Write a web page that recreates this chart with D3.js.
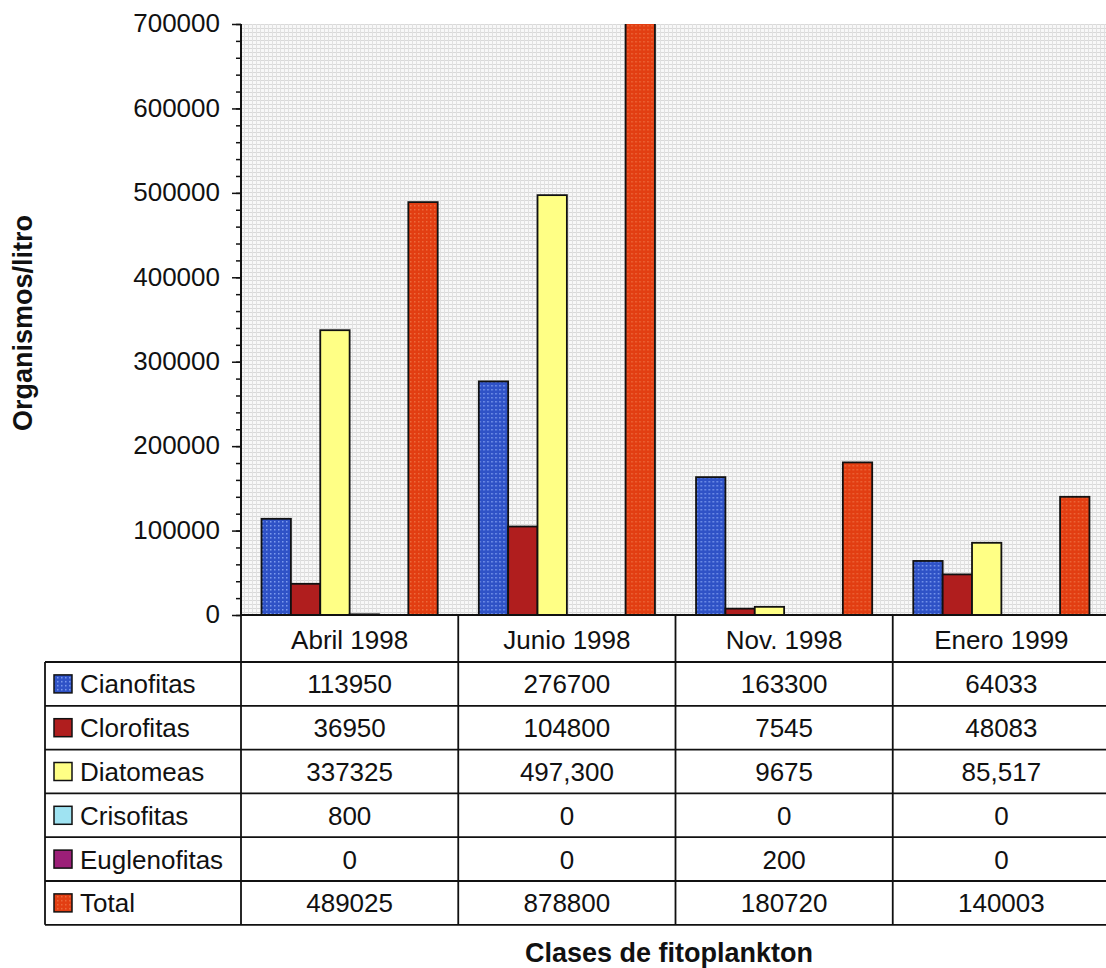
<!DOCTYPE html>
<html>
<head>
<meta charset="utf-8">
<script src="https://d3js.org/d3.v7.min.js"></script>
<style>
	body { margin: 0; background: #fff; }
	text { font-family: 'Liberation Sans', Arial, sans-serif; fill: #111; }
	.axis-title { font-weight: bold; font-size: 27px; }
	.tick text { font-size: 26px; }
	.cell { font-size: 26px; }
</style>
</head>
<body>
<div id="chart"></div>
<script>

var categories = ['Abril 1998', 'Junio 1998', 'Nov. 1998', 'Enero 1999']
var seriesNames = ['Cianofitas', 'Clorofitas', 'Diatomeas', 'Crisofitas', 'Euglenofitas', 'Total']
var seriesColors = ['#2f52c6', '#b01e1e', '#ffff85', '#9fe3f2', '#9c1f78', '#e23e12']

// values per series, one entry per category
var cianofitas = [113950, 276700, 163300, 64033]
var clorofitas = [36950, 104800, 7545, 48083]
var diatomeas = [337325, 497300, 9675, 85517]
var crisofitas = [800, 0, 0, 0]
var euglenofitas = [0, 0, 200, 0]
var total = [489025, 878800, 180720, 140003]

// the table prints some numbers with a thousands comma
var tableLabels = [
	['113950', '276700', '163300', '64033'],
	['36950', '104800', '7545', '48083'],
	['337325', '497,300', '9675', '85,517'],
	['800', '0', '0', '0'],
	['0', '0', '200', '0'],
	['489025', '878800', '180720', '140003']
]

var yTicks = [0, 100000, 200000, 300000, 400000, 500000, 600000, 700000]

var seriesValues = [cianofitas, clorofitas, diatomeas, crisofitas, euglenofitas, total]

var W = 1106
var H = 968

var plot = {
	'left' : 241,
	'right' : 1110,
	'top' : 24,
	'bottom' : 615
}

var table = {
	'left' : 45,
	'headerBottom' : 662,
	'rowH' : 43.8
}

var svg = d3.select('#chart')
	.append('svg')
	.attr('width', W)
	.attr('height', H)

var defs = svg.append('defs')

// hatched grey backdrop of the plot
var bgPat = defs.append('pattern')
	.attr('id', 'bg-grid')
	.attr('width', 4)
	.attr('height', 4)
	.attr('patternUnits', 'userSpaceOnUse')
bgPat.append('rect').attr('width', 4).attr('height', 4).attr('fill', '#f8f8f8')
bgPat.append('rect').attr('width', 4).attr('height', 1).attr('fill', '#d9d9d9')
bgPat.append('rect').attr('width', 1).attr('height', 4).attr('fill', '#e1e1e1')

// dotted blue used for Cianofitas
var bluePat = defs.append('pattern')
	.attr('id', 'blue-dots')
	.attr('width', 4)
	.attr('height', 4)
	.attr('patternUnits', 'userSpaceOnUse')
bluePat.append('rect').attr('width', 4).attr('height', 4).attr('fill', seriesColors[0])
bluePat.append('rect').attr('x', 1).attr('y', 1).attr('width', 1.5).attr('height', 1.5).attr('fill', '#7d9bee')

var orangePat = defs.append('pattern')
	.attr('id', 'orange-dots')
	.attr('width', 4)
	.attr('height', 4)
	.attr('patternUnits', 'userSpaceOnUse')
orangePat.append('rect').attr('width', 4).attr('height', 4).attr('fill', seriesColors[5])
orangePat.append('rect').attr('x', 1).attr('y', 1).attr('width', 1.5).attr('height', 1.5).attr('fill', '#ec6a3c')

var fills = seriesColors.map(function(c, i) {
	if (i == 0) return 'url(#blue-dots)'
	if (i == 5) return 'url(#orange-dots)'
	return c
})

defs.append('clipPath')
	.attr('id', 'plot-clip')
	.append('rect')
	.attr('x', plot.left)
	.attr('y', plot.top)
	.attr('width', plot.right - plot.left)
	.attr('height', plot.bottom - plot.top)

var x0 = d3.scaleBand()
	.domain(categories)
	.range([plot.left, plot.right])

var x1 = d3.scaleBand()
	.domain(seriesNames)
	.range([0, x0.bandwidth()])
	.paddingOuter(0.7)

var y = d3.scaleLinear()
	.domain([0, 700000])
	.range([plot.bottom, plot.top])

svg.append('rect')
	.attr('x', plot.left)
	.attr('y', plot.top)
	.attr('width', plot.right - plot.left)
	.attr('height', plot.bottom - plot.top)
	.attr('fill', 'url(#bg-grid)')

var bars = svg.append('g')
	.attr('clip-path', 'url(#plot-clip)')

var groups = bars.selectAll('g')
	.data(categories)
	.enter()
	.append('g')
	.attr('transform', function(d) {
		return 'translate(' + x0(d) + ',0)'
	})

groups.selectAll('rect')
	.data(function(d, ci) {
		return seriesNames.map(function(s, si) {
			return { 'series' : s, 'idx' : si, 'value' : seriesValues[si][ci] }
		})
	})
	.enter()
	.append('rect')
	.filter(function(d) { return d.value > 0 })
	.attr('x', function(d) { return x1(d.series) })
	.attr('width', x1.bandwidth())
	.attr('y', function(d) { return y(d.value) })
	.attr('height', function(d) { return Math.max(0.8, y(0) - y(d.value)) })
	.attr('fill', function(d) { return fills[d.idx] })
	.attr('stroke', '#111')
	.attr('stroke-width', 1.8)

// y axis: minor ticks every 20000, labelled majors every 100000
var minorTicks = d3.range(0, 700001, 20000)

svg.append('g')
	.attr('transform', 'translate(' + plot.left + ',0)')
	.call(d3.axisLeft(y).tickValues(minorTicks).tickSize(5).tickFormat(''))
	.call(function(g) { g.select('.domain').remove() })
	.selectAll('line')
	.attr('stroke', '#111')
	.attr('stroke-width', 1.5)

var yAxis = svg.append('g')
	.attr('transform', 'translate(' + plot.left + ',0)')
	.call(d3.axisLeft(y).tickValues(yTicks).tickSize(9).tickPadding(12).tickFormat(d3.format('d')))

yAxis.select('.domain').remove()
yAxis.selectAll('line').attr('stroke', '#111').attr('stroke-width', 1.5)
yAxis.selectAll('text')
	.attr('dy', '0.30em')
	.style('font-family', "'Liberation Sans', Arial, sans-serif")
	.style('font-size', '26px')
	.attr('fill', '#111')

svg.append('line')
	.attr('x1', plot.left)
	.attr('x2', plot.left)
	.attr('y1', plot.top)
	.attr('y2', plot.bottom)
	.attr('stroke', '#111')
	.attr('stroke-width', 2)

// data table under the plot
var rowTop = function(i) { return table.headerBottom + i * table.rowH }
var tableBottom = rowTop(seriesNames.length)
var lines = svg.append('g')
	.attr('stroke', '#111')
	.attr('stroke-width', 1.8)

lines.append('line')
	.attr('x1', plot.left).attr('x2', plot.right)
	.attr('y1', plot.bottom).attr('y2', plot.bottom)

d3.range(seriesNames.length + 1).forEach(function(i) {
	lines.append('line')
		.attr('x1', table.left).attr('x2', plot.right)
		.attr('y1', rowTop(i)).attr('y2', rowTop(i))
})

lines.append('line')
	.attr('x1', table.left).attr('x2', table.left)
	.attr('y1', table.headerBottom).attr('y2', tableBottom)

categories.forEach(function(c) {
	lines.append('line')
		.attr('x1', x0(c)).attr('x2', x0(c))
		.attr('y1', plot.bottom).attr('y2', tableBottom)
})

svg.append('g')
	.selectAll('text')
	.data(categories)
	.enter()
	.append('text')
	.attr('class', 'cell')
	.attr('x', function(d) { return x0(d) + x0.bandwidth() / 2 })
	.attr('y', (plot.bottom + table.headerBottom) / 2 + 10)
	.attr('text-anchor', 'middle')
	.text(function(d) { return d })

var rows = svg.append('g')
	.selectAll('g')
	.data(seriesNames)
	.enter()
	.append('g')
	.attr('transform', function(d, i) {
		return 'translate(0,' + (rowTop(i) + table.rowH / 2) + ')'
	})

rows.append('rect')
	.attr('x', 54)
	.attr('y', -9)
	.attr('width', 18)
	.attr('height', 18)
	.attr('fill', function(d, i) { return fills[i] })
	.attr('stroke', '#111')
	.attr('stroke-width', 1.5)

rows.append('text')
	.attr('class', 'cell')
	.attr('x', 80)
	.attr('y', 9.5)
	.text(function(d) { return d })

rows.each(function(d, si) {
	d3.select(this).selectAll('text.val')
		.data(tableLabels[si])
		.enter()
		.append('text')
		.attr('class', 'cell val')
		.attr('x', function(v, ci) { return x0(categories[ci]) + x0.bandwidth() / 2 })
		.attr('y', 9.5)
		.attr('text-anchor', 'middle')
		.text(function(v) { return v })
})

svg.append('text')
	.attr('class', 'axis-title')
	.attr('text-anchor', 'middle')
	.attr('transform', 'translate(32,323) rotate(-90)')
	.text('Organismos/litro')

svg.append('text')
	.attr('class', 'axis-title')
	.attr('text-anchor', 'middle')
	.attr('x', 669)
	.attr('y', 962)
	.text('Clases de fitoplankton')

</script>
</body>
</html>
